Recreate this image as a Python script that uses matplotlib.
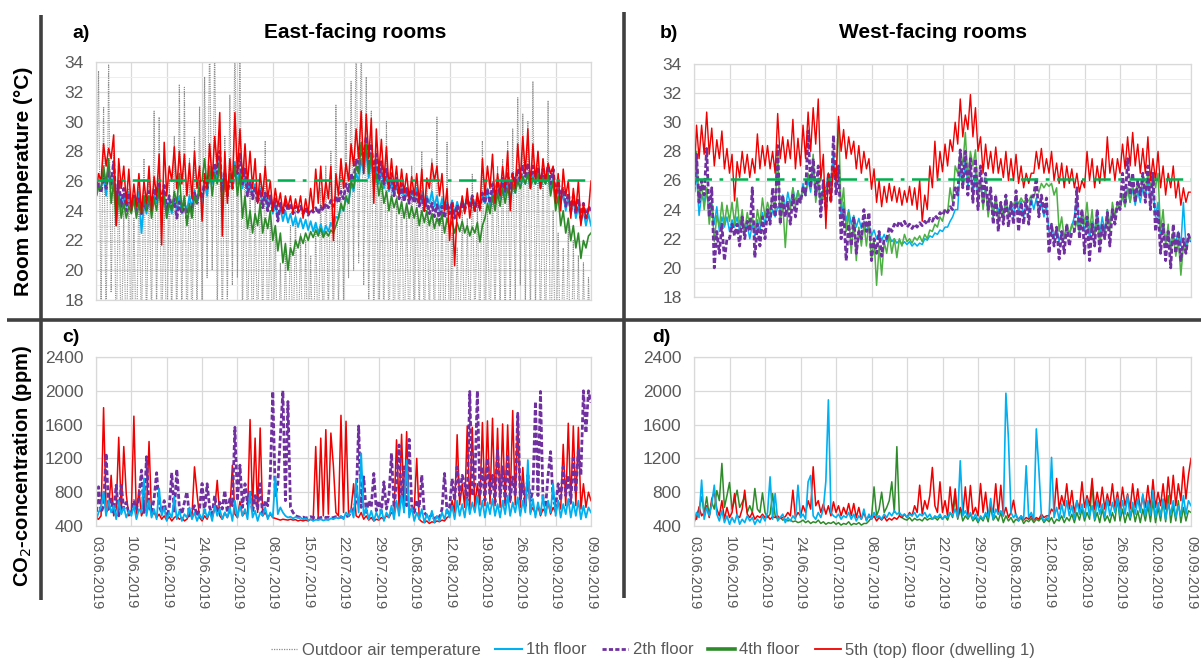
import numpy as np
import matplotlib
matplotlib.use("Agg")
import matplotlib.pyplot as plt
from matplotlib.lines import Line2D

plt.rcParams['font.family'] = ['Liberation Sans', 'DejaVu Sans']

# Two readings per day (00:00 and 12:00), 03.06.2019 00:00 ... 09.09.2019 00:00
SAMPLES_PER_DAY = 2
date_ticks = ["03.06.2019", "10.06.2019", "17.06.2019", "24.06.2019", "01.07.2019",
              "08.07.2019", "15.07.2019", "22.07.2019", "29.07.2019", "05.08.2019",
              "12.08.2019", "19.08.2019", "26.08.2019", "02.09.2019", "09.09.2019"]
comfort_limit = 26.1

# ---------------- room / outdoor temperature, east side (deg C) ----------------
east_outdoor = [
    24.0, 33.4, 17.5, 31.0, 16.0, 33.8, 18.5, 28.0, 15.0, 26.5, 14.0, 24.0, 13.5, 25.5,
    12.5, 23.5, 14.0, 26.0, 15.5, 27.5, 16.0, 26.5, 16.5, 30.7, 17.0, 30.3, 15.0, 25.0,
    14.0, 26.0, 16.5, 29.0, 15.5, 32.5, 16.0, 32.3, 14.5, 27.5, 15.0, 29.0, 16.5, 31.0,
    18.0, 33.0, 19.5, 36.0, 20.0, 35.5, 17.0, 30.0, 16.0, 29.0, 17.5, 31.8, 19.0, 36.0,
    19.5, 35.0, 16.5, 28.0, 15.0, 26.0, 14.5, 25.0, 15.0, 26.5, 16.0, 28.7, 14.5, 24.0,
    13.0, 23.0, 12.0, 20.5, 12.5, 21.5, 13.0, 23.0, 14.0, 24.0, 13.5, 22.5, 12.0, 22.0,
    12.5, 21.0, 13.0, 23.0, 14.0, 25.5, 15.0, 27.0, 16.5, 28.0, 15.0, 31.1, 17.0, 27.5,
    18.0, 30.0, 19.5, 32.7, 20.0, 36.0, 20.5, 36.0, 19.0, 33.0, 17.0, 30.7, 16.0, 28.0,
    15.5, 27.0, 16.0, 30.0, 15.0, 26.5, 14.5, 25.0, 15.0, 26.0, 14.0, 24.5, 14.5, 27.0,
    15.5, 26.0, 16.5, 28.0, 15.0, 26.0, 16.0, 27.5, 14.5, 30.3, 13.5, 25.0, 12.5, 28.6,
    13.0, 22.5, 14.0, 21.5, 15.0, 24.0, 14.5, 23.5, 15.0, 26.5, 16.0, 24.5, 15.5, 28.7,
    14.0, 24.5, 15.0, 26.0, 16.5, 27.0, 17.0, 27.5, 16.0, 28.7, 17.5, 29.5, 18.0, 31.6,
    19.0, 30.5, 17.5, 30.0, 16.5, 32.7, 17.0, 28.0, 15.5, 27.5, 14.0, 31.4, 13.0, 24.0,
    12.5, 22.5, 13.0, 21.5, 12.0, 23.0, 11.5, 22.0, 12.0, 21.0, 11.0, 20.5, 12.0, 19.5,
    14.0]

east_t1 = [
    25.0, 25.8, 25.5, 26.5, 25.0, 26.8, 25.5, 26.3, 24.5, 25.5, 24.0, 25.0, 24.3, 25.2,
    24.0, 24.8, 24.2, 25.3, 22.5, 24.5, 23.8, 24.8, 24.0, 25.0, 24.5, 25.8, 24.0, 25.2,
    23.5, 24.6, 23.8, 24.8, 24.0, 25.0, 23.8, 24.6, 24.0, 25.0, 24.2, 25.4, 24.5, 25.5,
    24.5, 25.8, 25.0, 26.5, 25.8, 27.0, 26.2, 27.6, 25.5, 26.8, 25.5, 26.5, 26.0, 27.3,
    25.8, 26.8, 25.5, 26.2, 25.3, 26.0, 25.0, 25.8, 24.8, 25.5, 24.5, 25.2, 24.2, 25.0,
    23.8, 24.5, 23.5, 24.2, 23.3, 24.0, 23.2, 23.8, 23.0, 23.6, 22.9, 23.5, 22.8, 23.4,
    22.7, 23.3, 22.6, 23.2, 22.5, 23.1, 22.4, 23.0, 22.6, 23.2, 22.8, 23.6, 23.5, 24.3,
    24.0, 24.8, 24.5, 25.8, 25.3, 26.5, 26.0, 27.5, 26.5, 28.0, 26.2, 27.5, 25.8, 27.0,
    25.8, 26.8, 25.5, 26.3, 25.3, 26.0, 25.0, 25.8, 25.0, 25.6, 24.8, 25.5, 24.7, 25.4,
    24.8, 25.5, 24.5, 25.3, 24.3, 25.0, 24.5, 25.3, 24.3, 25.0, 24.0, 24.8, 24.0, 24.6,
    24.0, 24.7, 23.8, 24.6, 24.0, 24.8, 24.2, 25.0, 24.3, 25.0, 24.2, 24.9, 24.3, 25.2,
    24.5, 25.5, 24.2, 25.3, 24.5, 25.8, 24.8, 26.0, 25.0, 26.0, 24.5, 25.8, 25.2, 26.2,
    25.5, 26.3, 25.8, 26.5, 25.5, 26.3, 25.8, 26.5, 25.5, 26.2, 25.8, 26.5, 25.5, 26.2,
    24.8, 25.5, 24.5, 25.2, 24.0, 25.0, 23.8, 24.8, 23.5, 24.3, 23.2, 24.0, 23.0, 23.8,
    23.0]

east_t2 = [
    25.0, 25.8, 25.2, 26.5, 25.5, 26.8, 25.8, 27.3, 24.5, 26.0, 24.3, 25.5, 24.0, 25.2,
    24.2, 25.0, 24.0, 24.8, 23.8, 24.8, 24.0, 25.3, 24.3, 25.5, 24.8, 25.8, 24.5, 25.7,
    24.0, 25.0, 24.2, 24.8, 23.5, 24.6, 23.8, 24.5, 23.5, 24.3, 24.0, 25.2, 24.5, 25.5,
    24.8, 26.0, 25.5, 26.5, 26.0, 27.2, 26.5, 28.0, 25.0, 26.5, 25.0, 26.3, 25.5, 27.0,
    26.5, 27.8, 25.8, 26.8, 25.0, 26.0, 24.8, 25.6, 24.5, 25.4, 24.2, 25.2, 24.0, 25.0,
    24.0, 24.8, 23.3, 24.5, 23.8, 24.6, 24.0, 24.5, 23.8, 24.3, 23.9, 24.3, 23.8, 24.2,
    23.7, 24.1, 23.9, 24.2, 23.8, 24.3, 24.0, 24.5, 24.2, 24.7, 24.3, 25.0, 24.5, 25.3,
    24.8, 25.8, 25.3, 26.5, 26.0, 27.5, 26.8, 28.5, 27.5, 29.0, 27.0, 28.5, 26.5, 27.8,
    26.0, 27.3, 25.8, 26.8, 25.5, 26.5, 25.0, 26.2, 24.8, 25.8, 24.6, 25.5, 24.5, 25.3,
    24.5, 25.2, 24.3, 25.0, 24.0, 24.8, 23.8, 24.5, 23.6, 24.4, 23.3, 24.3, 23.5, 24.5,
    23.8, 24.6, 23.5, 24.4, 23.8, 24.6, 24.0, 24.8, 24.2, 25.0, 24.0, 24.8, 24.2, 25.2,
    24.5, 25.5, 24.5, 25.8, 24.8, 26.0, 25.0, 26.2, 25.3, 26.5, 25.5, 26.5, 25.8, 26.8,
    26.0, 27.0, 26.3, 27.2, 26.0, 27.0, 26.2, 26.8, 25.8, 26.8, 26.0, 27.0, 25.8, 26.8,
    25.0, 26.0, 24.8, 25.5, 24.3, 25.2, 24.0, 25.0, 23.8, 24.8, 23.5, 24.5, 23.5, 24.3,
    24.0]

east_t4 = [
    25.0, 25.5, 25.5, 27.0, 25.8, 27.5, 24.5, 26.0, 23.0, 25.0, 23.5, 24.5, 23.5, 24.3,
    23.8, 24.8, 23.5, 24.5, 23.8, 25.0, 24.0, 25.0, 23.5, 24.8, 24.0, 25.5, 23.8, 25.0,
    23.5, 24.5, 24.0, 25.3, 24.5, 26.5, 24.0, 25.0, 23.0, 24.5, 23.5, 25.0, 24.5, 26.0,
    26.0, 27.5, 25.5, 27.0, 25.0, 26.5, 25.8, 27.3, 24.5, 26.0, 25.0, 26.5, 25.5, 27.0,
    25.0, 26.5, 23.5, 25.0, 22.8, 24.0, 22.5, 23.8, 23.0, 24.5, 22.5, 23.5, 22.8, 24.0,
    22.0, 23.0, 21.3, 22.5, 20.5, 21.8, 20.0, 21.5, 21.0, 22.0, 21.5, 22.3, 21.8, 22.5,
    22.0, 22.6, 22.2, 22.7, 22.3, 22.8, 22.2, 22.6, 22.3, 22.7, 22.5, 23.0, 23.5, 24.5,
    24.0, 25.0, 24.5, 26.0, 25.5, 27.0, 26.5, 28.6, 27.0, 28.5, 26.5, 27.8, 25.5, 26.5,
    25.0, 26.0, 24.5, 25.3, 24.0, 25.0, 24.2, 24.8, 23.8, 24.6, 23.5, 24.5, 23.5, 24.3,
    23.5, 24.2, 23.0, 24.0, 23.2, 24.0, 23.0, 23.8, 22.8, 23.5, 23.0, 23.8, 22.5, 23.5,
    22.8, 23.3, 22.5, 23.2, 22.6, 23.3, 22.5, 23.0, 22.3, 22.9, 22.5, 23.2, 21.9, 23.0,
    23.5, 24.5, 23.8, 25.0, 24.0, 25.2, 24.3, 25.5, 24.5, 25.5, 24.8, 25.8, 25.2, 26.0,
    25.5, 26.3, 25.8, 26.5, 25.5, 26.2, 25.8, 26.5, 25.5, 26.2, 25.8, 26.5, 25.0, 26.0,
    24.0, 25.0, 23.0, 24.0, 22.5, 23.5, 22.0, 23.0, 21.5, 22.5, 20.8, 22.0, 21.5, 22.3,
    22.5]

east_t5 = [
    25.0, 26.5, 26.0, 28.5, 27.0, 28.2, 27.5, 29.1, 23.0, 27.5, 25.5, 27.0, 24.5, 26.8,
    24.0, 25.8, 24.3, 26.5, 23.8, 26.0, 24.5, 27.0, 24.0, 26.3, 25.0, 27.8, 21.7, 28.6,
    25.0, 27.0, 26.0, 28.3, 25.5, 28.0, 25.8, 27.8, 25.0, 27.2, 24.8, 28.0, 25.5, 27.0,
    23.3, 26.5, 25.5, 28.5, 26.0, 29.0, 27.0, 30.6, 22.3, 28.0, 24.5, 27.5, 25.5, 30.6,
    26.5, 29.5, 26.0, 28.5, 25.8, 28.0, 25.5, 27.5, 24.5, 26.5, 25.0, 27.0, 24.8, 26.0,
    24.0, 25.5, 24.3, 25.2, 23.8, 25.0, 24.2, 25.0, 23.8, 24.8, 24.0, 25.0, 23.5, 24.8,
    23.8, 25.5, 24.0, 26.8, 24.5, 27.0, 24.2, 26.0, 24.8, 27.0, 22.0, 26.5, 25.0, 27.5,
    25.5, 27.2, 26.0, 28.5, 27.0, 29.5, 27.5, 30.7, 26.5, 30.5, 27.5, 30.2, 24.5, 29.5,
    26.5, 28.8, 26.0, 28.3, 25.5, 27.5, 25.5, 27.0, 25.0, 26.8, 25.2, 26.5, 24.8, 26.3,
    25.0, 26.5, 24.5, 26.8, 24.0, 26.2, 25.5, 27.2, 26.0, 27.0, 25.0, 26.5, 24.0, 25.5,
    22.0, 24.5, 20.3, 24.0, 23.5, 25.0, 23.8, 25.5, 23.5, 24.8, 24.0, 25.2, 24.0, 27.5,
    25.0, 27.0, 25.5, 27.8, 24.5, 26.5, 25.0, 27.0, 25.5, 28.0, 24.0, 26.5, 25.5, 28.5,
    26.0, 29.0, 26.5, 29.5, 25.5, 28.5, 26.0, 28.0, 25.5, 27.5, 26.0, 27.2, 26.5, 27.0,
    24.5, 26.5, 24.0, 26.8, 25.0, 26.0, 23.5, 25.5, 24.0, 26.0, 23.0, 24.5, 23.5, 24.0,
    26.0]

# ---------------- room temperature, west side (deg C) ----------------
west_t1 = [
    25.0, 26.5, 23.6, 25.0, 24.5, 25.5, 23.5, 24.5, 23.0, 24.2, 22.5, 23.5, 22.8, 23.5,
    22.5, 23.3, 22.8, 23.5, 22.5, 23.2, 22.3, 23.0, 22.0, 23.0, 22.2, 23.3, 22.5, 23.8,
    23.0, 24.0, 23.2, 24.0, 23.5, 24.2, 24.0, 25.0, 24.0, 25.2, 24.3, 25.5, 24.5, 25.3,
    24.5, 25.8, 25.0, 26.0, 25.2, 27.0, 24.8, 26.0, 24.5, 25.5, 25.5, 26.5, 26.0, 28.0,
    25.5, 27.0, 23.5, 24.5, 23.2, 24.0, 23.0, 23.6, 22.8, 23.4, 22.7, 23.2, 22.5, 23.0,
    22.2, 22.6, 22.0, 22.4, 21.9, 22.3, 21.8, 22.2, 21.8, 22.0, 21.7, 21.9, 21.6, 21.8,
    21.6, 21.8, 21.5, 21.7, 21.5, 21.7, 21.6, 22.0, 21.9, 22.2, 22.1, 22.4, 22.3, 22.6,
    22.5, 22.8, 22.8, 23.2, 23.5, 24.0, 24.0, 27.0, 25.5, 27.5, 25.5, 27.0, 25.0, 26.5,
    24.8, 26.0, 24.5, 25.5, 23.8, 25.0, 23.5, 24.8, 23.8, 24.5, 23.5, 24.8, 23.8, 24.5,
    23.5, 24.8, 23.8, 24.6, 23.5, 24.5, 23.8, 24.8, 24.0, 24.8, 23.8, 24.5, 23.5, 24.2,
    22.5, 23.0, 22.0, 22.8, 21.8, 22.5, 22.0, 22.8, 22.2, 22.9, 23.5, 25.0, 22.5, 23.5,
    22.5, 23.5, 22.0, 23.2, 22.5, 24.0, 22.3, 23.5, 22.5, 24.0, 23.0, 24.0, 23.5, 24.5,
    24.0, 25.0, 24.2, 25.5, 24.5, 25.5, 24.3, 25.3, 24.5, 25.5, 24.8, 26.0, 24.5, 25.5,
    23.5, 24.5, 22.0, 23.0, 21.8, 22.5, 21.5, 22.2, 21.8, 22.5, 21.5, 24.5, 21.5, 22.0,
    21.8]

west_t2 = [
    25.2, 27.8, 24.5, 26.0, 25.0, 28.2, 23.5, 25.5, 20.0, 22.5, 21.0, 23.0, 20.5, 22.0,
    22.0, 23.0, 22.2, 23.0, 21.5, 23.5, 22.0, 23.2, 22.5, 25.5, 20.7, 23.0, 21.5, 23.5,
    22.0, 24.0, 23.0, 25.5, 23.5, 28.4, 23.0, 25.0, 23.5, 24.5, 23.0, 25.0, 23.5, 24.8,
    24.5, 25.5, 25.0, 29.4, 25.5, 27.5, 25.0, 27.0, 23.5, 26.0, 24.0, 26.5, 24.5, 29.1,
    25.0, 27.0, 22.0, 24.0, 20.5, 23.0, 21.5, 23.5, 21.0, 22.5, 22.0, 24.0, 22.5, 23.8,
    20.5, 22.0, 21.0, 22.5, 20.8, 22.0, 22.0, 22.8, 22.5, 23.0, 22.8, 23.2, 22.9, 23.2,
    22.8, 23.0, 22.7, 23.0, 22.8, 23.1, 22.9, 23.2, 23.0, 23.4, 23.2, 23.6, 23.4, 23.8,
    23.6, 24.0, 23.8, 24.2, 24.0, 25.5, 25.0, 28.1, 25.5, 28.0, 25.0, 27.5, 24.5, 27.5,
    24.0, 27.0, 24.5, 26.5, 24.0, 25.5, 23.0, 25.0, 22.5, 24.5, 23.0, 25.0, 22.8, 24.5,
    23.0, 25.3, 22.5, 24.5, 23.0, 25.0, 23.0, 24.8, 25.0, 26.2, 23.5, 25.0, 23.8, 24.8,
    21.0, 23.0, 21.5, 22.8, 20.6, 22.5, 21.0, 23.0, 21.5, 22.5, 22.5, 25.5, 22.0, 24.0,
    21.0, 23.5, 20.5, 23.0, 21.5, 24.0, 21.0, 23.0, 22.0, 23.8, 21.5, 24.0, 23.0, 24.5,
    24.0, 26.5, 24.5, 27.5, 25.0, 26.5, 24.5, 26.0, 25.0, 26.5, 24.5, 27.0, 24.0, 26.5,
    22.5, 24.0, 21.0, 23.0, 20.5, 22.5, 20.0, 23.0, 21.0, 22.5, 20.5, 22.0, 21.0, 22.3,
    21.8]

west_t4 = [
    25.3, 28.0, 24.5, 25.8, 24.0, 25.5, 23.0, 24.5, 21.8, 23.6, 22.8, 24.5, 23.0, 24.3,
    23.2, 24.5, 23.0, 24.8, 22.8, 24.0, 22.5, 23.8, 22.8, 23.5, 22.5, 24.0, 23.0, 24.8,
    23.5, 24.5, 23.8, 25.0, 24.0, 28.2, 23.0, 24.5, 21.4, 24.0, 24.0, 25.5, 24.2, 25.3,
    24.5, 25.5, 25.0, 26.5, 25.5, 27.8, 24.5, 26.0, 24.0, 25.5, 25.0, 26.5, 25.3, 26.5,
    26.0, 30.2, 24.0, 25.5, 22.5, 23.8, 21.0, 23.5, 20.5, 22.8, 21.5, 23.0, 21.5, 23.2,
    20.5, 22.0, 18.8, 21.5, 19.5, 21.8, 21.0, 22.3, 21.0, 22.0, 20.7, 22.0, 21.5, 22.3,
    21.8, 22.0, 21.7, 22.1, 21.9, 22.2, 21.8, 22.3, 22.0, 22.6, 22.5, 23.0, 22.8, 23.5,
    23.2, 24.0, 23.8, 25.5, 24.5, 27.0, 26.5, 28.0, 27.0, 29.3, 26.0, 28.0, 27.0, 28.1,
    25.0, 26.0, 24.0, 25.5, 23.5, 24.8, 23.5, 25.0, 23.0, 24.5, 23.3, 24.8, 23.5, 24.5,
    24.3, 24.8, 24.4, 24.8, 24.5, 24.7, 24.6, 25.0, 24.8, 25.5, 25.2, 25.8, 25.5, 25.8,
    25.6, 25.8, 25.0, 25.5, 22.5, 23.5, 22.0, 23.0, 22.3, 23.0, 22.5, 23.2, 22.5, 24.0,
    23.0, 24.5, 22.5, 24.0, 22.0, 23.5, 21.5, 23.0, 22.0, 24.0, 22.5, 24.5, 23.5, 24.5,
    24.0, 25.0, 24.2, 25.5, 24.5, 25.8, 24.8, 26.0, 25.0, 26.2, 25.3, 26.5, 25.5, 26.5,
    25.5, 26.5, 22.5, 24.0, 21.5, 23.0, 21.0, 22.5, 20.8, 22.0, 19.5, 21.5, 21.0, 22.0,
    22.0]

west_t5 = [
    25.7, 29.8, 27.5, 29.8, 27.8, 30.7, 27.8, 29.6, 27.0, 28.8, 27.5, 29.4, 26.8, 28.2,
    26.5, 27.8, 24.6, 27.3, 26.2, 28.0, 26.5, 27.8, 26.2, 27.5, 26.5, 29.2, 26.8, 28.4,
    27.0, 28.4, 26.8, 28.0, 26.5, 30.6, 27.5, 29.0, 27.2, 28.8, 27.5, 30.2, 26.8, 28.9,
    27.0, 29.8, 27.5, 30.7, 28.0, 31.0, 28.5, 31.6, 26.0, 27.8, 22.7, 26.5, 24.5, 27.0,
    26.0, 30.4, 28.0, 29.5, 27.5, 29.0, 27.8, 28.7, 26.8, 28.4, 26.5, 28.0, 26.8, 27.5,
    25.4, 26.8, 24.5, 26.0, 24.2, 25.6, 24.5, 25.8, 24.6, 25.6, 24.5, 25.5, 24.3, 25.3,
    24.5, 25.6, 24.3, 25.5, 24.0, 26.0, 23.2, 25.0, 24.0, 27.0, 25.5, 28.7, 26.0, 28.0,
    26.6, 28.5, 27.0, 28.8, 28.0, 30.0, 28.5, 31.6, 29.0, 30.5, 29.5, 31.9, 29.0, 31.0,
    28.0, 29.0, 26.5, 28.5, 26.8, 28.0, 26.5, 28.3, 26.5, 27.5, 26.2, 28.0, 26.0, 27.5,
    26.0, 27.8, 25.8, 27.0, 25.5, 26.5, 25.8, 26.5, 26.5, 28.0, 26.8, 28.2, 26.5, 27.5,
    26.5, 28.0, 26.0, 27.2, 25.8, 27.2, 25.5, 27.0, 25.8, 26.8, 25.5, 26.5, 25.2, 26.0,
    25.5, 28.0, 26.0, 27.5, 25.5, 27.0, 25.8, 27.5, 26.0, 29.0, 26.5, 27.5, 26.0, 27.5,
    26.5, 28.5, 26.8, 29.0, 27.0, 29.3, 27.0, 28.5, 26.5, 28.2, 26.5, 29.0, 26.0, 27.5,
    26.0, 28.0, 25.5, 27.0, 25.0, 26.5, 25.5, 27.0, 24.8, 26.0, 24.3, 25.5, 24.5, 25.2,
    25.2]

# ---------------- CO2 concentration, east side (ppm) ----------------
east_co2_1 = [
    460, 560, 620, 804, 520, 700, 560, 640, 480, 700, 540, 620, 500, 580,
    520, 640, 480, 600, 560, 963, 520, 700, 500, 600, 480, 844, 520, 620,
    460, 560, 500, 745, 480, 580, 460, 540, 500, 620, 480, 560, 460, 540,
    480, 600, 500, 580, 460, 640, 520, 600, 480, 560, 500, 620, 460, 700,
    500, 640, 520, 600, 480, 804, 500, 580, 460, 560, 520, 620, 480, 560,
    500, 982, 540, 620, 560, 520, 500, 510, 490, 505, 495, 500, 480, 490,
    470, 480, 460, 475, 470, 480, 465, 475, 470, 490, 480, 500, 490, 520,
    480, 560, 520, 600, 500, 943, 560, 1260, 520, 620, 480, 580, 460, 560,
    480, 600, 460, 560, 500, 640, 480, 700, 520, 760, 560, 1180, 500, 620,
    460, 560, 480, 600, 440, 540, 460, 580, 440, 520, 460, 560, 480, 600,
    500, 640, 480, 700, 520, 660, 500, 720, 540, 680, 560, 760, 520, 700,
    500, 680, 540, 720, 520, 660, 500, 700, 540, 760, 520, 680, 560, 740,
    520, 700, 560, 1180, 540, 720, 500, 680, 540, 760, 520, 700, 560, 903,
    520, 700, 500, 660, 540, 720, 500, 680, 520, 700, 480, 640, 500, 620,
    560]

east_co2_2 = [
    480, 864, 560, 640, 1260, 600, 720, 560, 883, 520, 880, 600, 680, 540,
    560, 700, 600, 740, 1061, 560, 1220, 620, 560, 720, 1030, 640, 560, 700,
    500, 620, 1030, 560, 1070, 620, 540, 680, 804, 520, 580, 640, 520, 600,
    903, 560, 900, 620, 540, 760, 560, 680, 600, 820, 560, 720, 640, 1568,
    700, 1120, 620, 900, 660, 820, 560, 760, 600, 900, 520, 700, 640, 980,
    1992, 760, 900, 1465, 2000, 700, 1873, 620, 560, 520, 510, 500, 505, 495,
    500, 510, 500, 505, 495, 500, 510, 500, 505, 495, 500, 510, 500, 505,
    500, 510, 520, 560, 600, 700, 1584, 620, 982, 560, 700, 620, 1022, 580,
    700, 560, 923, 600, 760, 1260, 620, 900, 1359, 700, 1101, 640, 1426, 640,
    560, 700, 620, 1002, 560, 520, 500, 540, 480, 520, 500, 600, 1022, 560,
    620, 960, 700, 1100, 760, 1000, 900, 700, 1992, 760, 900, 2000, 760, 1100,
    700, 1200, 760, 1000, 680, 1300, 740, 1100, 680, 1250, 700, 980, 760, 1735,
    720, 900, 640, 1000, 700, 820, 1873, 760, 1992, 700, 620, 1000, 1280, 700,
    640, 900, 700, 1100, 760, 1000, 680, 1200, 800, 1300, 1000, 2000, 1500, 2000,
    1860]

east_co2_5 = [
    500, 480, 520, 1800, 560, 600, 1000, 520, 600, 1450, 560, 1340, 770, 520,
    560, 1700, 500, 830, 520, 600, 580, 1400, 520, 560, 500, 540, 480, 520,
    470, 510, 460, 500, 520, 480, 500, 460, 480, 540, 520, 1100, 785, 500,
    460, 520, 480, 560, 500, 600, 940, 520, 480, 560, 500, 580, 1120, 540,
    500, 690, 520, 560, 540, 1660, 600, 1440, 560, 1560, 520, 560, 500, 540,
    500, 490, 480, 470, 480, 475, 470, 480, 470, 475, 460, 470, 460, 470,
    460, 480, 470, 1340, 500, 1440, 520, 1540, 540, 1500, 1110, 560, 520, 1710,
    560, 1640, 540, 600, 900, 520, 500, 560, 480, 520, 470, 500, 460, 480,
    470, 500, 480, 520, 500, 560, 540, 1420, 600, 1485, 560, 1517, 540, 620,
    600, 1200, 480, 450, 440, 460, 430, 450, 440, 460, 450, 470, 460, 500,
    520, 700, 560, 1480, 650, 900, 620, 1584, 600, 1568, 620, 900, 650, 1624,
    640, 1644, 660, 1675, 640, 1556, 620, 1608, 640, 1596, 680, 1766, 650, 1675,
    620, 1093, 600, 1014, 560, 620, 540, 640, 520, 600, 560, 680, 540, 620,
    560, 700, 600, 1366, 640, 1616, 660, 1584, 640, 1568, 600, 900, 620, 800,
    700]

# ---------------- CO2 concentration, west side (ppm) ----------------
west_co2_1 = [
    460, 560, 500, 943, 480, 620, 520, 660, 883, 540, 460, 580, 440, 520,
    420, 500, 440, 540, 420, 480, 440, 520, 460, 500, 420, 480, 440, 520,
    460, 560, 982, 480, 784, 460, 500, 540, 440, 500, 460, 520, 480, 883,
    500, 540, 480, 923, 998, 520, 480, 560, 500, 600, 930, 1893, 560, 520,
    500, 540, 480, 520, 500, 560, 480, 540, 460, 520, 480, 600, 460, 540,
    480, 560, 500, 520, 480, 540, 500, 560, 520, 580, 540, 560, 520, 540,
    500, 540, 520, 560, 500, 540, 520, 560, 500, 540, 480, 520, 500, 540,
    480, 520, 500, 560, 520, 600, 500, 1172, 520, 580, 500, 560, 480, 540,
    460, 520, 480, 560, 500, 725, 480, 600, 540, 580, 520, 1972, 1438, 560,
    500, 540, 460, 520, 480, 1113, 500, 560, 480, 1549, 1073, 520, 460, 500,
    480, 1212, 500, 620, 480, 660, 500, 700, 520, 640, 480, 700, 540, 660,
    500, 720, 520, 640, 480, 700, 540, 660, 500, 720, 520, 680, 560, 740,
    520, 700, 540, 760, 500, 680, 540, 720, 560, 780, 520, 700, 540, 820,
    500, 680, 520, 720, 480, 660, 540, 700, 500, 640, 520, 760, 540, 700,
    640]

west_co2_4 = [
    440, 520, 600, 745, 560, 745, 520, 680, 600, 820, 700, 1141, 620, 760,
    915, 600, 700, 824, 620, 680, 745, 560, 640, 560, 844, 600, 560, 792,
    560, 500, 540, 784, 520, 480, 500, 470, 480, 460, 470, 450, 460, 440,
    450, 470, 440, 460, 430, 450, 440, 470, 430, 450, 420, 440, 430, 450,
    420, 440, 410, 430, 420, 450, 410, 430, 420, 440, 410, 430, 430, 460,
    500, 863, 520, 600, 800, 560, 620, 700, 923, 560, 1339, 520, 500, 480,
    470, 500, 460, 490, 470, 480, 460, 500, 470, 490, 480, 500, 470, 510,
    480, 520, 470, 560, 500, 745, 480, 600, 460, 520, 480, 540, 460, 500,
    440, 500, 460, 540, 450, 620, 470, 520, 460, 560, 440, 520, 460, 500,
    440, 480, 460, 500, 430, 470, 450, 490, 440, 480, 460, 500, 440, 480,
    450, 500, 430, 480, 460, 520, 440, 500, 460, 540, 440, 560, 470, 600,
    460, 560, 480, 903, 460, 560, 440, 600, 460, 520, 440, 560, 460, 725,
    460, 600, 440, 560, 470, 620, 450, 580, 440, 600, 460, 640, 450, 700,
    440, 620, 460, 700, 450, 760, 440, 640, 460, 700, 440, 620, 460, 580,
    560]

west_co2_5 = [
    500, 480, 626, 520, 560, 640, 500, 720, 804, 600, 520, 700, 480, 620,
    500, 560, 784, 520, 500, 600, 824, 540, 500, 560, 480, 520, 500, 540,
    500, 520, 480, 510, 500, 520, 490, 500, 510, 560, 520, 824, 500, 560,
    520, 640, 560, 700, 600, 1101, 640, 700, 560, 660, 540, 640, 520, 686,
    560, 640, 520, 620, 540, 666, 520, 666, 500, 620, 480, 560, 470, 520,
    480, 520, 460, 500, 470, 510, 460, 490, 470, 500, 480, 520, 500, 540,
    500, 560, 520, 640, 560, 883, 540, 700, 600, 760, 1093, 640, 560, 923,
    560, 700, 520, 863, 560, 840, 500, 620, 540, 863, 520, 880, 540, 620,
    520, 903, 560, 800, 520, 640, 560, 900, 540, 883, 520, 620, 500, 560,
    705, 520, 480, 520, 470, 500, 480, 520, 470, 500, 480, 540, 500, 520,
    520, 600, 560, 963, 600, 760, 640, 900, 600, 820, 560, 700, 600, 923,
    620, 760, 640, 963, 600, 800, 620, 860, 600, 780, 640, 900, 620, 800,
    600, 860, 640, 780, 600, 900, 620, 840, 580, 760, 620, 880, 600, 950,
    620, 800, 640, 900, 600, 980, 660, 1000, 640, 900, 700, 1100, 720, 1000,
    1200]

# ---------------- styling ----------------
C_OUT = '#8c8c8c'
C_1 = '#00B0F0'
C_2 = '#7030A0'
C_4E = '#2E8B2A'
C_4W = '#4CB043'
C_5 = '#F00000'
C_LIM = '#00B050'
GRID = '#d9d9d9'
TXT = '#595959'

W, H = 1201, 660
fig = plt.figure(figsize=(W / 100, H / 100), dpi=100)


def px_axes(left, top, right, bottom):
    return fig.add_axes([left / W, 1 - bottom / H, (right - left) / W, (bottom - top) / H])


def days(series):
    return np.arange(len(series)) / SAMPLES_PER_DAY


def style(ax, ymin, ymax, ystep, minor, dates):
    ax.set_xlim(0, 98)
    ax.set_ylim(ymin, ymax)
    ax.set_xticks(np.arange(0, 99, 7))
    ax.set_yticks(np.arange(ymin, ymax + 1, ystep))
    if minor:
        ax.set_yticks(np.arange(ymin + ystep / 2, ymax, ystep), minor=True)
        ax.grid(which='minor', axis='y', color='#eeeeee', lw=0.7)
    ax.grid(which='major', color=GRID, lw=0.9)
    ax.set_axisbelow(True)
    for s in ax.spines.values():
        s.set_color(GRID)
        s.set_linewidth(0.9)
    ax.tick_params(which='both', length=0, colors=TXT, labelsize=12.5, pad=9)
    if dates:
        ax.set_xticklabels(date_ticks, rotation=270, fontsize=10.5)
        ax.tick_params(axis='x', pad=7)
    else:
        ax.set_xticklabels([])


dash = (0, (1.8, 0.9))

# a) east temperatures
ax_a = px_axes(96, 62, 591, 300)
ax_a.plot(days(east_outdoor), east_outdoor, color=C_OUT, lw=0.8, ls=(0, (1, 1)))
ax_a.plot(days(east_t1), east_t1, color=C_1, lw=1.3)
ax_a.plot(days(east_t2), east_t2, color=C_2, lw=2.0, ls=dash)
ax_a.plot(days(east_t4), east_t4, color=C_4E, lw=1.2)
ax_a.plot(days(east_t5), east_t5, color=C_5, lw=1.1)
ax_a.axhline(comfort_limit, color=C_LIM, lw=1.8, ls=(0, (7, 3, 1.5, 3)))
style(ax_a, 18, 34, 2, True, False)

# b) west temperatures
ax_b = px_axes(694, 64, 1191, 297)
ax_b.plot(days(west_t1), west_t1, color=C_1, lw=1.1)
ax_b.plot(days(west_t4), west_t4, color=C_4W, lw=1.1)
ax_b.plot(days(west_t2), west_t2, color=C_2, lw=2.0, ls=dash)
ax_b.plot(days(west_t5), west_t5, color=C_5, lw=1.0)
ax_b.axhline(comfort_limit, color=C_LIM, lw=1.8, ls=(0, (7, 3, 1.5, 3)))
style(ax_b, 18, 34, 2, True, False)

# c) east CO2
ax_c = px_axes(96, 357, 591, 526)
ax_c.plot(days(east_co2_5), east_co2_5, color=C_5, lw=1.1)
ax_c.plot(days(east_co2_2), east_co2_2, color=C_2, lw=2.0, ls=dash)
ax_c.plot(days(east_co2_1), east_co2_1, color=C_1, lw=1.3)
style(ax_c, 400, 2400, 400, False, True)

# d) west CO2
ax_d = px_axes(694, 357, 1191, 526)
ax_d.plot(days(west_co2_4), west_co2_4, color=C_4E, lw=1.1)
ax_d.plot(days(west_co2_5), west_co2_5, color=C_5, lw=1.1)
ax_d.plot(days(west_co2_1), west_co2_1, color=C_1, lw=1.2)
style(ax_d, 400, 2400, 400, False, True)

# panel letters and titles
bold = dict(fontweight='bold', color='black')
fig.text(72 / W, 1 - 33 / H, 'a)', fontsize=14, va='center', ha='left', **bold)
fig.text(660 / W, 1 - 33 / H, 'b)', fontsize=14, va='center', ha='left', **bold)
fig.text(62 / W, 1 - 338 / H, 'c)', fontsize=14, va='center', ha='left', **bold)
fig.text(652 / W, 1 - 337 / H, 'd)', fontsize=14, va='center', ha='left', **bold)
fig.text(355 / W, 1 - 33 / H, 'East-facing rooms', fontsize=15, va='center', ha='center', **bold)
fig.text(933 / W, 1 - 33 / H, 'West-facing rooms', fontsize=15, va='center', ha='center', **bold)

fig.text(24 / W, 1 - 181 / H, 'Room temperature (°C)', rotation=90, fontsize=15,
         va='center', ha='center', **bold)
fig.text(23 / W, 1 - 466 / H, 'CO$_2$-concentration (ppm)', rotation=90, fontsize=14.5,
         va='center', ha='center', **bold)

# frame separating the four panels
frame = dict(color='#404040', lw=2.6, transform=fig.transFigure, solid_capstyle='butt')
fig.add_artist(Line2D([7 / W, 1], [1 - 320 / H, 1 - 320 / H], **frame))
fig.add_artist(Line2D([41 / W, 41 / W], [1 - 15 / H, 1 - 600 / H], **frame))
fig.add_artist(Line2D([624 / W, 624 / W], [1 - 12 / H, 1 - 598 / H], **frame))

# legend
handles = [
    Line2D([], [], color=C_OUT, lw=0.9, ls=(0, (1, 1))),
    Line2D([], [], color=C_1, lw=1.5),
    Line2D([], [], color=C_2, lw=2.0, ls=(0, (1.5, 0.8))),
    Line2D([], [], color=C_4E, lw=2.6),
    Line2D([], [], color=C_5, lw=1.3),
]
labels = ['Outdoor air temperature', '1th floor', '2th floor', '4th floor',
          '5th (top) floor (dwelling 1)']
leg = fig.legend(handles, labels, loc='center', bbox_to_anchor=(653 / W, 1 - 650 / H),
                 ncol=5, frameon=False, fontsize=12, handlelength=1.6,
                 handletextpad=0.25, columnspacing=0.9)
for t in leg.get_texts():
    t.set_color(TXT)

fig.savefig('out.png', dpi=100)
